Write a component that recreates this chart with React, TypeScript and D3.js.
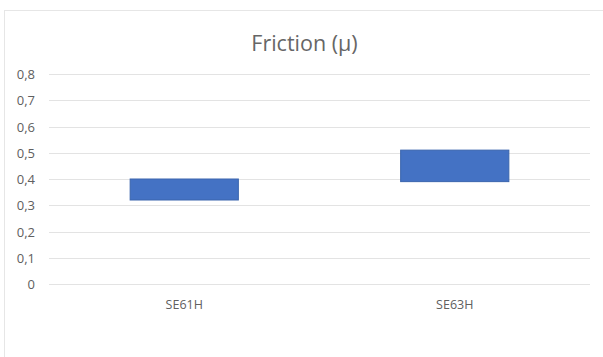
import React from "react";
import * as d3 from "d3";

const categories = ["SE61H", "SE63H"];
const lowValues = [0.32, 0.39];
const highValues = [0.4, 0.51];
const yTicks = [0, 0.1, 0.2, 0.3, 0.4, 0.5, 0.6, 0.7, 0.8];

const App = () => {
  const width = 603;
  const height = 357;
  const margin = { top: 74, right: 13, bottom: 73, left: 49 };
  const innerW = width - margin.left - margin.right;
  const innerH = height - margin.top - margin.bottom;

  const xScale = d3
    .scaleBand()
    .domain(categories)
    .range([0, innerW])
    .paddingInner(0.6)
    .paddingOuter(0.3);

  const yScale = d3.scaleLinear().domain([0, 0.8]).range([innerH, 0]);

  // decimal comma, plain "0" at the origin
  const fmt = (v) => d3.format(".1f")(v).replace(".", ",").replace(/^0,0$/, "0");

  const font = "'Open Sans', 'Noto Sans', sans-serif";

  return (
    <svg
      width={width}
      height={height}
      style={{ position: "absolute", left: 0, top: 0, background: "#fff" }}
    >
      <rect x={4.5} y={10.5} width={620} height={400} fill="#fff" stroke="#e6e6e6" />
      <text
        x={width / 2 + 3}
        y={51}
        textAnchor="middle"
        fontFamily={font}
        fontSize={21.5}
        fill="#666"
      >
        Friction (µ)
      </text>
      <g transform={`translate(${margin.left},${margin.top})`}>
        {yTicks.map((t) => (
          <g key={t} transform={`translate(0,${Math.round(yScale(t)) + 0.5})`}>
            <line x1={0} x2={innerW} stroke="#e3e3e3" strokeWidth={1} />
            <text
              x={-14}
              dy="0.35em"
              textAnchor="end"
              fontFamily={font}
              fontSize={13}
              fill="#606060"
            >
              {fmt(t)}
            </text>
          </g>
        ))}
        {categories.map((c, i) => (
          <rect
            key={c}
            x={xScale(c)}
            y={yScale(highValues[i])}
            width={xScale.bandwidth()}
            height={yScale(lowValues[i]) - yScale(highValues[i])}
            fill="#4472C4"
            stroke="#3a64ad"
            strokeWidth={1}
          />
        ))}
        {categories.map((c) => (
          <text
            key={c}
            x={xScale(c) + xScale.bandwidth() / 2}
            y={innerH + 25}
            textAnchor="middle"
            fontFamily={font}
            fontSize={12.5}
            fill="#606060"
          >
            {c}
          </text>
        ))}
      </g>
    </svg>
  );
};

export default App;
